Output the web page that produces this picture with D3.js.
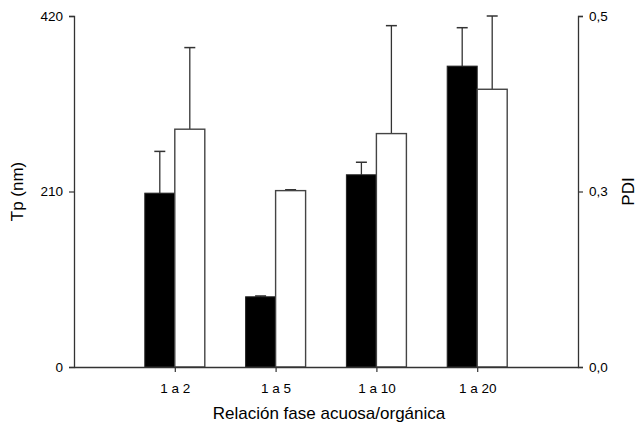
<!DOCTYPE html>
<html>
<head>
<meta charset="utf-8">
<script src="https://cdn.jsdelivr.net/npm/d3@7"></script>
<style>
  body { margin: 0; background: #fff; }
  text { font-family: "Liberation Sans", Arial, sans-serif; fill: #000; }
</style>
</head>
<body>
<div id="chart"></div>
<script>
// values
const categories = ["1 a 2", "1 a 5", "1 a 10", "1 a 20"];
const tpValues = [208, 84, 230, 360];      // nm, black bars
const tpErrors = [50, 1, 15, 46];
const pdiValues = [0.371, 0.301, 0.366, 0.4165]; // white bars
const pdiErrors = [0.093, 0.001, 0.123, 0.0835];
const leftTicks = [0, 210, 420];
const rightTicks = [0, 0.3, 0.5];

const width = 637, height = 426;
const margin = {top: 16, right: 59, bottom: 59, left: 74};

const svg = d3.select("#chart").append("svg")
    .attr("width", width)
    .attr("height", height);

const x = d3.scalePoint()
    .domain(categories)
    .range([margin.left, width - margin.right])
    .padding(1);

const yLeft = d3.scaleLinear()
    .domain([0, 420])
    .range([height - margin.bottom, margin.top]);

// right axis labels are not evenly spaced in the original
const yRight = d3.scaleLinear()
    .domain([0, 0.3, 0.5])
    .range([height - margin.bottom, (height - margin.bottom + margin.top) / 2, margin.top]);

const barW = 30;
const capW = 11;
const fmt = d => d3.format(".1f")(d).replace(".", ",");

// bars + error bars
const g = svg.append("g");
categories.forEach((c, i) => {
    const cx = x(c);
    // error bar first (behind bar)
    g.append("line")
        .attr("x1", cx - barW / 2).attr("x2", cx - barW / 2)
        .attr("y1", yLeft(tpValues[i])).attr("y2", yLeft(tpValues[i] + tpErrors[i]))
        .attr("stroke", "#333").attr("stroke-width", 1.3);
    g.append("line")
        .attr("x1", cx - barW / 2 - capW / 2).attr("x2", cx - barW / 2 + capW / 2)
        .attr("y1", yLeft(tpValues[i] + tpErrors[i])).attr("y2", yLeft(tpValues[i] + tpErrors[i]))
        .attr("stroke", "#333").attr("stroke-width", 1.5);
    g.append("rect")
        .attr("x", cx - barW).attr("width", barW)
        .attr("y", yLeft(tpValues[i]))
        .attr("height", yLeft(0) - yLeft(tpValues[i]))
        .attr("fill", "#000").attr("stroke", "#222").attr("stroke-width", 1);

    g.append("line")
        .attr("x1", cx + barW / 2).attr("x2", cx + barW / 2)
        .attr("y1", yRight(pdiValues[i])).attr("y2", yRight(pdiValues[i] + pdiErrors[i]))
        .attr("stroke", "#333").attr("stroke-width", 1.3);
    g.append("line")
        .attr("x1", cx + barW / 2 - capW / 2).attr("x2", cx + barW / 2 + capW / 2)
        .attr("y1", yRight(pdiValues[i] + pdiErrors[i])).attr("y2", yRight(pdiValues[i] + pdiErrors[i]))
        .attr("stroke", "#333").attr("stroke-width", 1.5);
    g.append("rect")
        .attr("x", cx).attr("width", barW)
        .attr("y", yRight(pdiValues[i]))
        .attr("height", yRight(0) - yRight(pdiValues[i]))
        .attr("fill", "#fff").attr("stroke", "#444").attr("stroke-width", 1.4);
});

// axes
const axisStyle = sel => {
    sel.select(".domain").attr("stroke", "#333").attr("stroke-width", 1.3);
    sel.selectAll(".tick line").attr("stroke", "#333").attr("stroke-width", 1.2);
    sel.selectAll(".tick text").style("font-size", "13.5px")
        .style("font-family", "'Liberation Sans', Arial, sans-serif").attr("fill", "#000");
};

svg.append("g")
    .attr("transform", `translate(${margin.left},0)`)
    .call(d3.axisLeft(yLeft).tickValues(leftTicks).tickSize(5).tickSizeOuter(5).tickPadding(6))
    .call(axisStyle);

svg.append("g")
    .attr("transform", `translate(${width - margin.right},0)`)
    .call(d3.axisRight(yRight).tickValues(rightTicks).tickFormat(fmt).tickSize(5).tickSizeOuter(5).tickPadding(6))
    .call(axisStyle);

svg.append("g")
    .attr("transform", `translate(0,${height - margin.bottom})`)
    .call(d3.axisBottom(x).tickSize(5).tickSizeOuter(0).tickPadding(11))
    .call(axisStyle);

// titles
svg.append("text")
    .attr("transform", `translate(23,${yLeft(210)}) rotate(-90)`)
    .attr("text-anchor", "middle")
    .style("font-size", "17px")
    .text("Tp (nm)");

svg.append("text")
    .attr("transform", `translate(634,${yLeft(210)}) rotate(-90)`)
    .attr("text-anchor", "middle")
    .style("font-size", "17px")
    .text("PDI");

svg.append("text")
    .attr("x", (margin.left + width - margin.right) / 2 + 3)
    .attr("y", 419)
    .attr("text-anchor", "middle")
    .style("font-size", "17px")
    .text("Relación fase acuosa/orgánica");
</script>
</body>
</html>
